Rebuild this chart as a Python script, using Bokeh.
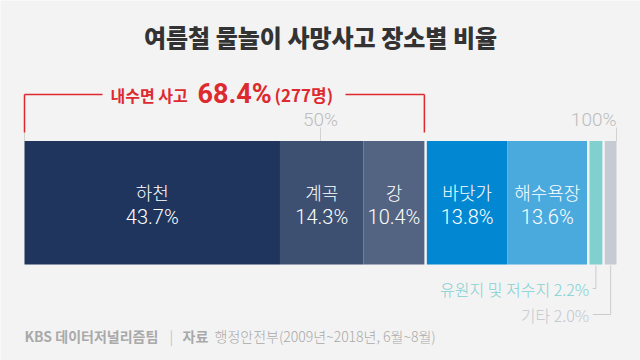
from bokeh.plotting import figure
from bokeh.models import Range1d
from bokeh.core.properties import value
from bokeh.embed import file_html
from bokeh.resources import INLINE

# ---------------- data ----------------
title_text = "여름철 물놀이 사망사고 장소별 비율"
places = ["하천", "계곡", "강", "바닷가", "해수욕장", "유원지 및 저수지", "기타"]
shares = [43.7, 14.3, 10.4, 13.8, 13.6, 2.2, 2.0]
groups = [0, 0, 0, 1, 1, 2, 3]          # 0 = inland water (내수면)
colors = ["#1f355e", "#3d5071", "#536483", "#0288d2", "#4aaade", "#80d0d0", "#c6cad2"]
tick_values = [0, 50, 100]
tick_labels = ["", "50%", "100%"]
inland_label = "내수면 사고"
inland_count = "(277명)"
footer_org = "KBS 데이터저널리즘팀"
footer_src_label = "자료"
footer_src = "행정안전부(2009년~2018년, 6월~8월)"

# ---------------- layout constants ----------------
W, H = 640, 360
OFF = 0                        # page offset of the figure
BG = "#f3f3f3"
GAP = 0.42                     # gap between groups, in percent units
X0_PX, X1_PX = 24, 616         # screen px for 0% and 100%
BAR_TOP, BAR_BOT = 140.5, 264
FONT_KR = value("Noto Sans CJK KR")
FONT_KR_B = value("Noto Sans CJK KR Black")
FONT_KR_L = value("Noto Sans CJK KR Light")
FONT_NUM_L = value("Roboto Light")

total = 100 + groups[-1] * GAP
k = (X1_PX - X0_PX) / total
xstart = -(X0_PX - OFF) / k
xend = xstart + W / k

p = figure(width=W, height=H, output_backend="svg", toolbar_location=None,
           x_range=Range1d(xstart, xend), y_range=Range1d(OFF + H, OFF),
           x_axis_type=None, y_axis_type=None, min_border=0)
p.extra_x_ranges = {"px": Range1d(OFF, OFF + W)}
p.background_fill_color = BG
p.border_fill_color = BG
p.outline_line_color = None
p.xgrid.visible = False
p.ygrid.visible = False

# cumulative positions
lefts, rights = [], []
cum = 0.0
for s, g in zip(shares, groups):
    l = cum + g * GAP
    lefts.append(l)
    rights.append(l + s)
    cum += s

def to_data(px):
    return xstart + (px - OFF) / k

# ---------------- ticks ----------------
tick_x = [t / 100 * total for t in tick_values]
p.segment(x0=tick_x, y0=[127] * 3, x1=tick_x, y1=[BAR_TOP] * 3,
          line_color="#d2d2d2", line_width=1)
p.text(x=[tick_x[1]], y=[119], text=[tick_labels[1]], text_align="center",
       text_baseline="middle", text_font=FONT_NUM_L, text_font_size="19px",
       text_color="#bdbdbd")
p.text(x=[tick_x[2]], y=[119], text=[tick_labels[2]], text_align="right",
       text_baseline="middle", text_font=FONT_NUM_L, text_font_size="19px",
       text_color="#bdbdbd")

# ---------------- bars ----------------
p.quad(left=lefts, right=rights, top=BAR_TOP, bottom=BAR_BOT,
       fill_color=colors, line_color=None)

# labels inside big segments
big = [i for i, s in enumerate(shares) if s > 5]
cx = [(lefts[i] + rights[i]) / 2 for i in big]
p.text(x=cx, y=[191.5] * len(big), text=[places[i] for i in big],
       text_align="center", text_baseline="middle", text_font=FONT_KR_L,
       text_font_size="18px", text_color="white")
p.text(x=cx, y=[216] * len(big), text=[f"{shares[i]:.1f}%" for i in big],
       text_align="center", text_baseline="middle", text_font=FONT_NUM_L,
       text_font_size="20px", text_color="white")

# leaders for small segments
small = [i for i, s in enumerate(shares) if s <= 5]
label_y = [288, 314]
anchor = lefts[small[0]]
small_colors = ["#7fd0d0", "#c3c7ce"]
for j, i in enumerate(small):
    c = (lefts[i] + rights[i]) / 2
    p.line(x=[c, c, anchor + 0.55], y=[BAR_BOT + 1, label_y[j], label_y[j]],
           line_color="#c9cbce", line_width=1)
    p.text(x=[anchor - 0.05], y=[label_y[j]], text=[f"{places[i]} {shares[i]:.1f}%"],
           text_align="right", text_baseline="middle", text_font=FONT_KR_L,
           text_font_size="16px", text_color=small_colors[j])

# ---------------- inland bracket ----------------
inland_end = max(r for r, g in zip(rights, groups) if g == 0)
inland_share = sum(s for s, g in zip(shares, groups) if g == 0)
RED = "#dd2a2f"
p.segment(x0=[0, inland_end], y0=[94, 94], x1=[0, inland_end], y1=[132, 132],
          line_color=RED, line_width=1.5)
p.segment(x0=[0, to_data(345)], y0=[94, 94], x1=[to_data(102), inland_end],
          y1=[94, 94], line_color=RED, line_width=1.5)
p.text(x=[110], y=[94], text=[inland_label], x_range_name="px",
       text_align="left", text_baseline="middle", text_font=FONT_KR,
       text_font_style="bold", text_font_size="16px", text_color=RED)
p.text(x=[197], y=[93], text=[f"{inland_share:.1f}%"], x_range_name="px",
       text_align="left", text_baseline="middle", text_font=value("Roboto"),
       text_font_style="bold", text_font_size="27px", text_color=RED)
p.text(x=[274], y=[94], text=[inland_count], x_range_name="px",
       text_align="left", text_baseline="middle", text_font=FONT_KR,
       text_font_style="bold", text_font_size="17px", text_color=RED)

# ---------------- title ----------------
p.text(x=[320], y=[36], text=[title_text], x_range_name="px",
       text_align="center", text_baseline="middle", text_font=FONT_KR_B,
       text_font_style="bold", text_font_size="24px", text_color="#333333")

# ---------------- footer ----------------
FOOT = "#a9a9a9"
p.text(x=[24], y=[335], text=[footer_org], x_range_name="px",
       text_align="left", text_baseline="middle", text_font=FONT_KR,
       text_font_style="bold", text_font_size="14px", text_color=FOOT)
p.text(x=[171], y=[335], text=["|"], x_range_name="px",
       text_align="center", text_baseline="middle", text_font=FONT_KR,
       text_font_size="14px", text_color="#c4c4c4")
p.text(x=[182], y=[335], text=[footer_src_label], x_range_name="px",
       text_align="left", text_baseline="middle", text_font=FONT_KR,
       text_font_style="bold", text_font_size="14px", text_color=FOOT)
p.text(x=[214], y=[335], text=[footer_src], x_range_name="px",
       text_align="left", text_baseline="middle", text_font=FONT_KR_L,
       text_font_size="14px", text_color=FOOT)

html = file_html(p, INLINE)
html = html.replace("<body>", f'<body style="background:{BG}">', 1)
open("out.html", "w").write(html)
